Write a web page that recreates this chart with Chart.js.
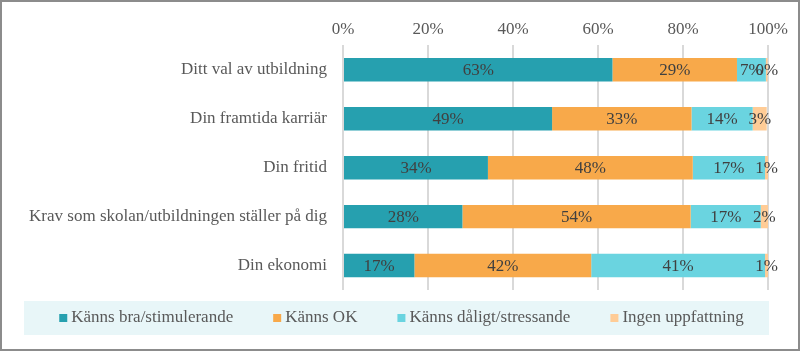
<!DOCTYPE html>
<html>
<head>
<meta charset="utf-8">
<script src="https://cdn.jsdelivr.net/npm/chart.js@4"></script>
<style>
  html, body { margin: 0; padding: 0; background: #fff; }
  #wrap { position: relative; width: 796px; height: 347px; border: 2px solid #8c8c8c; }
</style>
</head>
<body>
<div id="wrap"><canvas id="chart" width="796" height="347"></canvas></div>
<script>
const categories = [
  'Ditt val av utbildning',
  'Din framtida karriär',
  'Din fritid',
  'Krav som skolan/utbildningen ställer på dig',
  'Din ekonomi'
];
const seriesNames = ['Känns bra/stimulerande', 'Känns OK', 'Känns dåligt/stressande', 'Ingen uppfattning'];
const bra = [63.4, 49.2, 34.1, 28.1, 16.8];
const ok = [29.3, 32.8, 48.2, 53.7, 41.6];
const daligt = [6.8, 14.4, 17.0, 16.5, 40.9];
const ingen = [0.4, 3.3, 0.7, 1.7, 0.7];
const xTicks = [0, 20, 40, 60, 80, 100];

const colors = ['#26A0AF', '#F8A94A', '#6AD4E0', '#FFCC96'];
const FONT = "'Liberation Serif', 'DejaVu Serif', serif";
const TEXT = '#595959';

// draws value labels inside each segment
const segmentLabels = {
  id: 'segmentLabels',
  afterDatasetsDraw(chart) {
    const ctx = chart.ctx;
    ctx.save();
    ctx.font = '17px ' + FONT;
    ctx.fillStyle = '#404040';
    ctx.textAlign = 'center';
    ctx.textBaseline = 'middle';
    chart.data.datasets.forEach((ds, i) => {
      const meta = chart.getDatasetMeta(i);
      meta.data.forEach((bar, j) => {
        const cx = (bar.x + bar.base) / 2;
        ctx.fillText(Math.round(ds.data[j]) + '%', cx, bar.y + 1);
      });
    });
    ctx.restore();
  }
};

// legend under the plot, on a light band
const bandLegend = {
  id: 'bandLegend',
  afterDraw(chart) {
    const ctx = chart.ctx;
    const top = chart.chartArea.bottom + 11;
    const h = 34;
    ctx.save();
    ctx.fillStyle = '#E8F6F8';
    ctx.fillRect(22, top, 745, h);

    ctx.font = '17px ' + FONT;
    ctx.textBaseline = 'middle';
    const gap = 40, box = 8, boxGap = 4;
    const items = chart.data.datasets.map(ds => ({
      text: ds.label, color: ds.backgroundColor, w: ctx.measureText(ds.label).width
    }));
    const total = items.reduce((s, it) => s + box + boxGap + it.w, 0) + gap * (items.length - 1);
    let x = 22 + (745 - total) / 2 + 5;
    const cy = top + h / 2;
    items.forEach(it => {
      ctx.fillStyle = it.color;
      ctx.fillRect(x, cy - 4, box, box);
      ctx.fillStyle = TEXT;
      ctx.fillText(it.text, x + box + boxGap, cy);
      x += box + boxGap + it.w + gap;
    });
    ctx.restore();
  }
};

const datasets = [bra, ok, daligt, ingen].map((d, i) => ({
  label: seriesNames[i],
  data: d,
  backgroundColor: colors[i],
  borderWidth: 0,
  barPercentage: 0.48,
  categoryPercentage: 1
}));

new Chart(document.getElementById('chart'), {
  type: 'bar',
  data: { labels: categories, datasets: datasets },
  options: {
    indexAxis: 'y',
    responsive: false,
    animation: false,
    layout: { padding: { left: 23, right: 30, top: 11, bottom: 59 } },
    scales: {
      x: {
        position: 'top',
        stacked: true,
        min: 0,
        max: 100,
        afterBuildTicks(scale) {
          scale.ticks = xTicks.map(v => ({ value: v }));
        },
        grid: { color: '#D9D9D9', lineWidth: 2, drawTicks: false },
        border: { display: false },
        ticks: {
          color: TEXT,
          font: { family: FONT, size: 17 },
          padding: 6,
          callback: v => v + '%'
        }
      },
      y: {
        stacked: true,
        grid: { display: false },
        border: { display: false },
        afterFit(scale) { scale.width = 318; },
        ticks: {
          color: TEXT,
          font: { family: FONT, size: 17 },
          padding: 8
        }
      }
    },
    plugins: {
      legend: { display: false },
      tooltip: { enabled: false }
    }
  },
  plugins: [segmentLabels, bandLegend]
});
</script>
</body>
</html>
